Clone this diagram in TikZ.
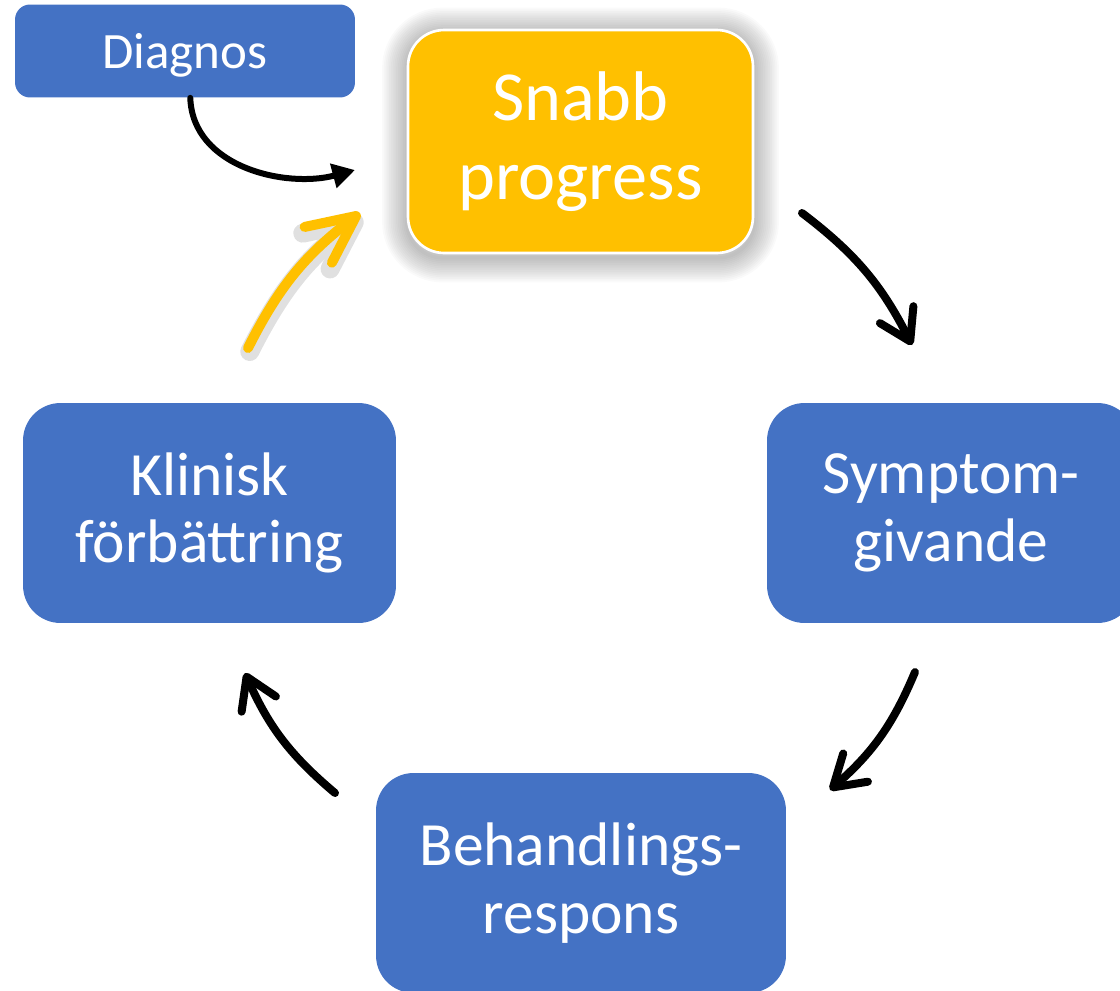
\documentclass[tikz,border=0pt]{standalone}
\usepackage{fontspec}
\setmainfont{Carlito}
\usepackage{tikz}
\usetikzlibrary{arrows.meta, backgrounds}
\definecolor{boxblue}{HTML}{4472C4}
\definecolor{boxgold}{HTML}{FFC000}

\begin{document}
\begin{tikzpicture}[x=0.02cm, y=0.02cm]
\tikzstyle{line} = [draw, line width=0.16cm, line cap=round, -{Straight Barb[length=0.6cm, width=0.75cm, round]}]
\tikzstyle{gold line} = [line, draw=boxgold, line width=0.2cm, -{Straight Barb[length=0.95cm, width=0.9cm, round]}]
\tikzstyle{glow line} = [gold line, draw=black!12, line width=0.38cm]
\tikzstyle{vertex} = [rectangle, rounded corners=0.75cm, fill=boxblue, text=white, align=center, minimum width=7.46cm, minimum height=4.4cm, inner sep=0pt, font=\fontsize{35}{38.5}\selectfont]
\useasboundingbox (0,0) rectangle (1120,-991);
\node[vertex, minimum width=6.8cm, minimum height=1.86cm, rounded corners=0.3cm, text depth=0pt, font=\fontsize{29}{31}\selectfont] (D_0) at (185,-51) {Diagnos};
\node[vertex, fill=boxgold, draw=white, line width=1.5pt, minimum width=6.9cm, minimum height=4.46cm, rounded corners=0.72cm, font=\fontsize{40}{44.8}\selectfont] (C_0) at (580.5,-141.5) {Snabb\\progress};
\node[vertex, minimum width=7.36cm] (C_1) at (951,-513) {Symptom-\\givande};
\node[vertex, minimum width=8.2cm] (C_2) at (581,-883) {Behandlings-\\respons};
\node[vertex] (C_3) at (209.5,-513) {Klinisk\\förbättring};
% soft glow behind the yellow box
\begin{scope}[on background layer]
\foreach \w in {2,4,...,28}
  \draw[black, opacity=0.018, line width=\w*1pt, rounded corners=0.72cm] ([yshift=-2pt]C_0.south west) rectangle ([yshift=-2pt]C_0.north east);
\end{scope}
% arrow ends
\coordinate (a_1) at (355,-170);
\coordinate (a_2) at (248,-348);
\coordinate (a_3) at (360,-213);
\coordinate (a_4) at (802,-213);
\coordinate (a_5) at (912,-345);
\coordinate (a_6) at (915,-672);
\coordinate (a_7) at (830,-790);
\coordinate (a_8) at (335,-793);
\coordinate (a_9) at (245,-673);
\path [line, line width=0.12cm, -{Triangle[length=0.45cm, width=0.48cm]}] ([xshift=3pt]D_0.south) to[out=-88, in=195] (a_1);
\path [glow line] ([xshift=1pt, yshift=-2pt]a_2) to[bend left=13] ([xshift=1pt, yshift=-2pt]a_3);
\path [gold line] (a_2) to[bend left=13] (a_3);
\path [line] (a_4) to[bend left=13] (a_5);
\path [line] (a_6) to[bend left=13] (a_7);
\path [line] (a_8) to[bend left=13] (a_9);
\end{tikzpicture}
\end{document}
